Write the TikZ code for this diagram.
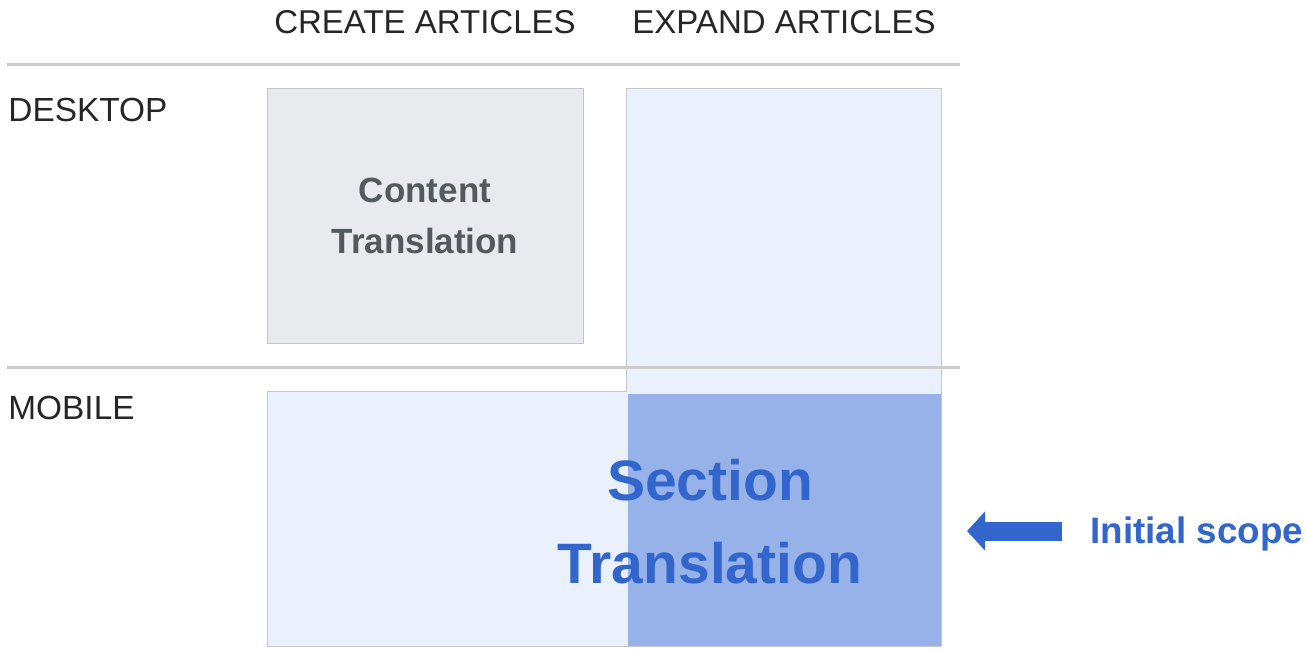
\documentclass[tikz,border=0pt]{standalone}
\usepackage{fontspec}
\setmainfont{Liberation Sans}
\usetikzlibrary{arrows.meta}

\definecolor{rulegray}{HTML}{CCCCCC}
\definecolor{boxline}{HTML}{C4C6CA}
\definecolor{boxgray}{HTML}{E9EAEE}
\definecolor{paleblue}{HTML}{EAF1FC}
\definecolor{midblue}{HTML}{97B2E8}
\definecolor{scopeblue}{HTML}{3366CC}
\definecolor{ctgray}{HTML}{54595D}

\tikzset{
  head/.style={anchor=base, inner sep=0, text=black!85, font=\fontsize{16.5}{20}\selectfont},
  rowlabel/.style={anchor=base west, inner sep=0, text=black!85, font=\fontsize{16.7}{20}\selectfont},
  rulerow/.style={rulegray, line width=1.5pt},
  outline/.style={boxline, line width=0.5pt}
}

\begin{document}
\begin{tikzpicture}[x=0.5pt, y=-0.5pt]
\useasboundingbox (0,0) rectangle (1307,649);

\node[head] (create) at (425,33) {CREATE ARTICLES};
\node[head] (expand) at (784,33) {EXPAND ARTICLES};
\node[rowlabel] (desktop) at (8,121) {DESKTOP};
\node[rowlabel] (mobile) at (8,419) {MOBILE};

\node[draw=boxline, fill=boxgray, line width=0.5pt, minimum width=158pt, minimum height=127.5pt, inner sep=0,
  align=center, text=ctgray, font=\bfseries\fontsize{17.5}{25.5}\selectfont] (ct) at (425,216) {Content\\Translation};

\fill[paleblue] (626,88) rectangle (941,391);
\fill[paleblue] (267,391) rectangle (941,646);
\fill[midblue] (628,394) rectangle (941,646);
\draw[outline] (626,391) -- (626,88) -- (941,88) -- (941,646) -- (267,646) -- (267,391) -- cycle;

\node[align=center, text=scopeblue, inner sep=0, font=\bfseries\fontsize{28.5}{41.5}\selectfont] (st) at (710,522) {Section\\Translation};

\draw[rulerow] (7,64) -- (960,64);
\draw[rulerow] (7,367) -- (960,367);

\node[anchor=west, inner sep=0, text=scopeblue, font=\bfseries\fontsize{18.4}{22}\selectfont] (scope) at (1090,534) {Initial scope};
\coordinate (tail) at (1062,531);
\coordinate (tip) at (967,531);
\draw[scopeblue, line width=9.5pt, -{Triangle[length=9pt, width=19pt]}] (tail) -- (tip);

\end{tikzpicture}
\end{document}
